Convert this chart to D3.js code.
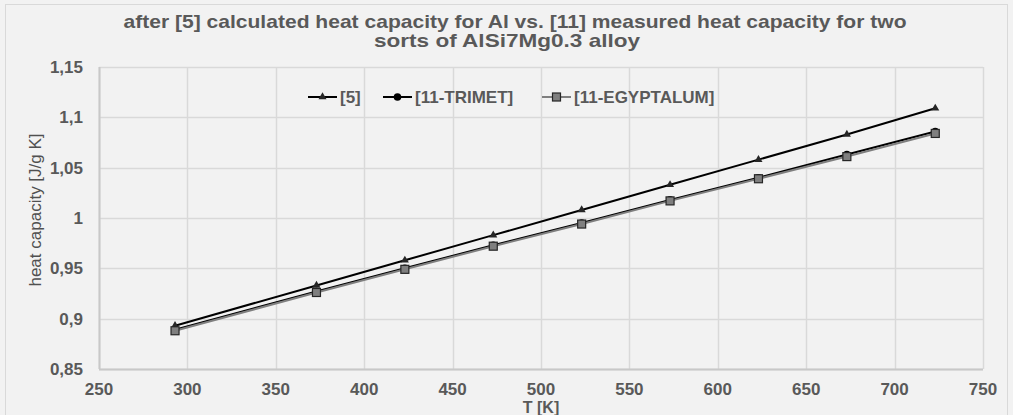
<!DOCTYPE html>
<html>
<head>
<meta charset="utf-8">
<script src="https://cdn.jsdelivr.net/npm/d3@7"></script>
<style>
	body { margin: 0; background: #f2f2f2; }
	text { font-family: "Liberation Sans", Arial, sans-serif; fill: #595959; }
</style>
</head>
<body>
<script>
const temps = [293, 373, 423, 473, 523, 573, 623, 673, 723];
const calc5 = [0.893, 0.933, 0.958, 0.983, 1.008, 1.033, 1.058, 1.083, 1.109];
const trimet = [0.889, 0.927, 0.950, 0.973, 0.995, 1.018, 1.040, 1.063, 1.086];
const egyptalum = [0.888, 0.926, 0.949, 0.972, 0.994, 1.017, 1.039, 1.061, 1.084];
const seriesNames = ['[5]', '[11-TRIMET]', '[11-EGYPTALUM]'];
const xTicks = [250, 300, 350, 400, 450, 500, 550, 600, 650, 700, 750];
const yTicks = [0.85, 0.9, 0.95, 1, 1.05, 1.1, 1.15];

const width = 1013,
	height = 415,
	margin = { top: 67, right: 30, bottom: 46, left: 99 },
	fontSize = '17px';

const series = [
	{ name: seriesNames[0], values: calc5, color: '#000', shape: 'triangle' },
	{ name: seriesNames[1], values: trimet, color: '#000', shape: 'circle' },
	{ name: seriesNames[2], values: egyptalum, color: '#7f7f7f', shape: 'square' }
];

let svg = d3.select('body').append('svg')
	.attr('width', width)
	.attr('height', height);

// outer chart border
svg.append('rect')
	.attr('x', 5.5).attr('y', 4.5)
	.attr('width', 1002).attr('height', 430)
	.attr('fill', '#f2f2f2')
	.attr('stroke', '#d9d9d9');

let x = d3.scaleLinear().domain([250, 750]).range([margin.left, 983]);
let y = d3.scaleLinear().domain([0.85, 1.15]).range([369, margin.top]);

let fmt = d => d3.format('~g')(d).replace('.', ',');

// grid
let grid = svg.append('g');
grid.selectAll('line.h')
	.data(yTicks)
	.enter().append('line')
	.attr('x1', x(250)).attr('x2', x(750))
	.attr('y1', d => Math.round(y(d)) + 0.5).attr('y2', d => Math.round(y(d)) + 0.5)
	.attr('stroke', '#d9d9d9').attr('stroke-width', 1.5);
grid.selectAll('line.v')
	.data(xTicks)
	.enter().append('line')
	.attr('y1', y(1.15)).attr('y2', y(0.85))
	.attr('x1', d => Math.round(x(d)) + 0.5).attr('x2', d => Math.round(x(d)) + 0.5)
	.attr('stroke', '#d9d9d9').attr('stroke-width', 1.5);

// axes lines
svg.append('line')
	.attr('x1', x(250)).attr('x2', x(750))
	.attr('y1', y(0.85) + 0.5).attr('y2', y(0.85) + 0.5)
	.attr('stroke', '#c8c8c8').attr('stroke-width', 2);
svg.append('line')
	.attr('x1', x(250) + 0.5).attr('x2', x(250) + 0.5)
	.attr('y1', y(1.15)).attr('y2', y(0.85))
	.attr('stroke', '#c8c8c8').attr('stroke-width', 2);

// tick labels
svg.append('g').selectAll('text')
	.data(yTicks)
	.enter().append('text')
	.attr('x', 83)
	.attr('y', d => y(d))
	.attr('dy', '0.35em')
	.attr('text-anchor', 'end')
	.attr('font-size', fontSize)
	.attr('font-weight', 'bold')
	.text(fmt);

svg.append('g').selectAll('text')
	.data(xTicks)
	.enter().append('text')
	.attr('x', d => x(d))
	.attr('y', 389)
	.attr('dy', '0.35em')
	.attr('text-anchor', 'middle')
	.attr('font-size', fontSize)
	.attr('font-weight', 'bold')
	.text(d => d);

// axis titles
svg.append('text')
	.attr('x', (x(250) + x(750)) / 2)
	.attr('y', 407)
	.attr('dy', '0.35em')
	.attr('text-anchor', 'middle')
	.attr('font-size', '16px')
	.attr('font-weight', 'bold')
	.text('T [K]');

svg.append('text')
	.attr('transform', 'translate(35,210) rotate(-90)')
	.attr('dy', '0.35em')
	.attr('text-anchor', 'middle')
	.attr('font-size', '17px')
	.style('fill', '#505050')
	.text('heat capacity [J/g K]');

// title (stretched a little wider, like the reference)
let title = svg.append('text')
	.attr('text-anchor', 'middle')
	.attr('font-size', '19px')
	.attr('font-weight', 'bold');
title.append('tspan').attr('x', 515).attr('y', 28)
	.attr('textLength', 783).attr('lengthAdjust', 'spacingAndGlyphs')
	.text('after [5] calculated heat capacity for Al vs. [11] measured heat capacity for two');
title.append('tspan').attr('x', 507).attr('y', 47)
	.attr('textLength', 266).attr('lengthAdjust', 'spacingAndGlyphs')
	.text('sorts of AlSi7Mg0.3 alloy');

// markers
function drawMarker(g, shape, cx, cy) {
	if (shape === 'triangle') {
		g.append('path')
			.attr('d', d3.symbol().type(d3.symbolTriangle).size(28)())
			.attr('transform', 'translate(' + cx + ',' + cy + ')')
			.attr('fill', '#262626');
	} else if (shape === 'circle') {
		g.append('circle')
			.attr('cx', cx).attr('cy', cy).attr('r', 3.8)
			.attr('fill', '#000');
	} else {
		g.append('rect')
			.attr('x', cx - 4).attr('y', cy - 4)
			.attr('width', 8).attr('height', 8)
			.attr('fill', '#7f7f7f')
			.attr('stroke', '#262626').attr('stroke-width', 1.2);
	}
}

let line = d3.line()
	.x((d, i) => x(temps[i]))
	.y(d => y(d));

let plot = svg.append('g');
series.forEach(s => {
	plot.append('path')
		.attr('d', line(s.values))
		.attr('fill', 'none')
		.attr('stroke', s.color)
		.attr('stroke-width', 2);
});
series.forEach(s => {
	let g = plot.append('g');
	s.values.forEach((v, i) => drawMarker(g, s.shape, x(temps[i]), y(v)));
});

// legend
const legendX = [308, 383, 542];
let legend = svg.append('g');
series.forEach((s, i) => {
	let lx = legendX[i], ly = 97;
	legend.append('line')
		.attr('x1', lx).attr('x2', lx + 29)
		.attr('y1', ly).attr('y2', ly)
		.attr('stroke', s.color).attr('stroke-width', 2);
	drawMarker(legend, s.shape, lx + 14.5, ly);
	legend.append('text')
		.attr('x', lx + 32).attr('y', ly)
		.attr('dy', '0.35em')
		.attr('font-size', fontSize)
		.attr('font-weight', 'bold')
		.text(s.name);
});
</script>
</body>
</html>
